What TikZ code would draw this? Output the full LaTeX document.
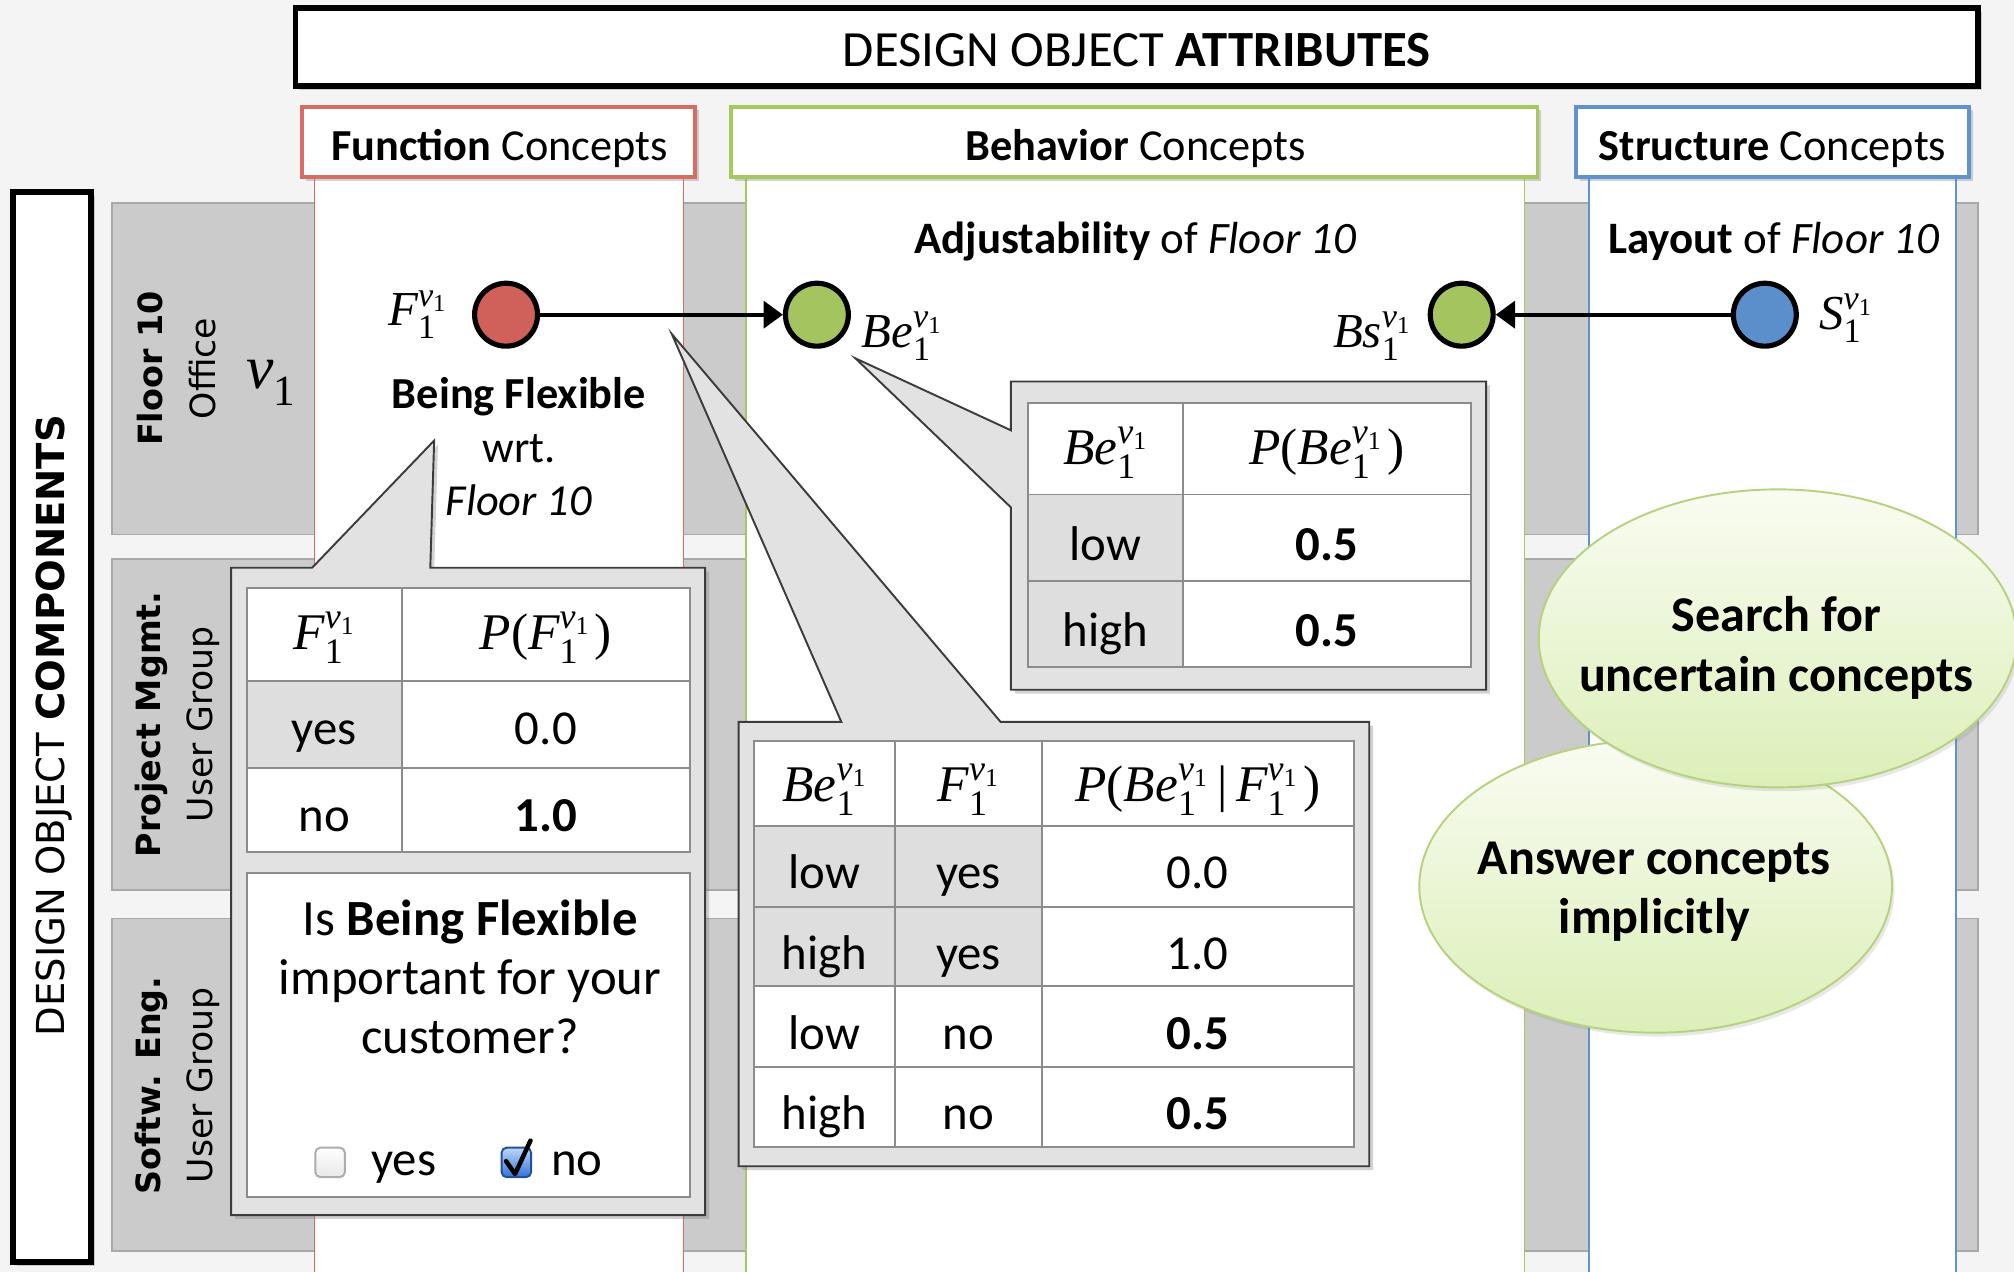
\documentclass[tikz,border=0pt]{standalone}
\usepackage{fontspec}
\usepackage{amsmath}
\setmainfont{Carlito}
\newfontfamily\vfont{DejaVu Sans}
\newfontfamily\tms{Liberation Serif}
\usetikzlibrary{shadows,arrows.meta,shapes.geometric}
\definecolor{bgc}{RGB}{244,244,244}
\definecolor{rowg}{RGB}{203,203,203}
\definecolor{rowb}{RGB}{168,168,168}
\definecolor{cred}{RGB}{218,106,100}
\definecolor{cgreen}{RGB}{165,200,95}
\definecolor{cblue}{RGB}{96,146,206}
\definecolor{fred}{RGB}{208,96,90}
\definecolor{fgreen}{RGB}{163,196,95}
\definecolor{fblue}{RGB}{91,143,203}
\definecolor{callf}{RGB}{226,226,226}
\definecolor{calld}{RGB}{60,60,60}
\definecolor{tline}{RGB}{140,140,140}
\definecolor{tcell}{RGB}{222,222,222}
\definecolor{elltop}{RGB}{249,252,242}
\definecolor{ellbot}{RGB}{220,239,184}
\definecolor{elld}{RGB}{182,210,126}
\definecolor{chktop}{RGB}{190,215,250}
\definecolor{chkbot}{RGB}{50,115,215}
\newcommand\tv[1]{\text{\tms\itshape #1}}
\newcommand\tu[1]{\text{\tms #1}}
\newcommand\vv[1]{\tv{#1}^{\tv{v}_{\tu{1}}}_{\tu{1}}}
\begin{document}
\begin{tikzpicture}[x=1pt,y=-1pt,
  shad/.style={drop shadow={opacity=0.35,shadow xshift=3pt,shadow yshift=-3pt}},
  softshad/.style={drop shadow={opacity=0.18,shadow xshift=2pt,shadow yshift=-3pt}},
  bigbox/.style={draw=black,line width=4.5pt,fill=white,shad,inner sep=0pt},
  colhead/.style={line width=3pt,fill=white,shad,inner sep=0pt},
  hdtxt/.style={font=\fontsize{34.5}{40}\selectfont,inner sep=0pt,anchor=base},
  colbody/.style={line width=1.2pt,fill=white},
  rowbox/.style={draw=rowb,fill=rowg,line width=1.2pt},
  sidebold/.style={rotate=90,font=\vfont\bfseries\fontsize{26}{30}\selectfont,inner sep=0pt},
  sidereg/.style={rotate=90,font=\vfont\fontsize{27}{30}\selectfont,inner sep=0pt},
  circ/.style={circle,draw=black,line width=4pt,minimum size=49pt,inner sep=0pt},
  arr/.style={line width=3pt,-{Triangle[length=15pt,width=21pt]}},
  lab/.style={font=\fontsize{38}{40}\selectfont,inner sep=0pt},
  txt/.style={font=\fontsize{34.5}{40}\selectfont,inner sep=0pt,anchor=base},
  cbox/.style={fill=callf,draw=calld,line width=1.5pt,line join=miter,shad},
  tbl/.style={draw=tline,line width=1.5pt},
  tt/.style={font=\fontsize{38}{46}\selectfont,inner sep=0pt,anchor=base},
  tm/.style={font=\fontsize{40}{46}\selectfont,inner sep=0pt,anchor=base},
  qt/.style={font=\fontsize{39.5}{46}\selectfont,inner sep=0pt,anchor=base},
  bubble/.style={ellipse,draw=elld,line width=1.5pt,top color=elltop,bottom color=ellbot,softshad,inner sep=0pt},
  btxt/.style={font=\bfseries\fontsize{39}{46}\selectfont,inner sep=0pt,anchor=base},
  chk/.style={rectangle,rounded corners=4pt,minimum size=23pt,inner sep=0pt,line width=1.5pt}
]
\useasboundingbox (0,0) rectangle (1568,990);
\fill[bgc] (0,0) rectangle (1568,990);

% rows
\draw[rowbox] (87,158) rectangle (1540,416);
\draw[rowbox] (87,435) rectangle (1540,693);
\draw[rowbox] (87,715) rectangle (1540,974);

% column bodies
\draw[colbody,draw=cred] (245,138) rectangle (532,995);
\draw[colbody,draw=cgreen] (581,138) rectangle (1187,995);
\draw[colbody,draw=cblue] (1237,138) rectangle (1523,995);

% headers
\node[bigbox,minimum width=1310pt,minimum height=61pt] (attr) at (885,36.5) {};
\node[hdtxt,font=\fontsize{39.5}{44}\selectfont] (attrt) at (885,52) {DESIGN OBJECT \textbf{ATTRIBUTES}};
\node[colhead,draw=cred,minimum width=306pt,minimum height=55pt] (fhead) at (388,110.5) {};
\node[colhead,draw=cgreen,minimum width=628pt,minimum height=55pt] (bhead) at (883,110.5) {};
\node[colhead,draw=cblue,minimum width=306pt,minimum height=55pt] (shead) at (1380,110.5) {};
\node[hdtxt] (fheadt) at (389,125) {\textbf{Function} Concepts};
\node[hdtxt] (bheadt) at (884,125) {\textbf{Behavior} Concepts};
\node[hdtxt] (sheadt) at (1380,125) {\textbf{Structure} Concepts};

% left box
\node[bigbox,minimum width=61pt,minimum height=833pt] (comp) at (40.5,566) {};
\node[rotate=90,font=\vfont\fontsize{30}{34}\selectfont,inner sep=0pt] (compt) at (42,565) {DESIGN OBJECT \textbf{COMPONENTS}};

% row labels
\node[sidebold] (r1a) at (117,287) {Floor 10};
\node[sidereg] (r1b) at (158,287) {Office};
\node[font=\tms\itshape\fontsize{48}{50}\selectfont,inner sep=0pt] (r1v) at (211,298) {v\textsubscript{\upshape 1}};
\node[sidebold] (r2a) at (118,564) {Project Mgmt.};
\node[sidereg] (r2b) at (158,564) {User Group};
\node[sidebold] (r3a) at (118,845) {Softw. Eng.};
\node[sidereg] (r3b) at (158,845) {User Group};

% column texts
\node[hdtxt,font=\fontsize{35}{40}\selectfont] (adj) at (884,197) {\textbf{Adjustability} of \textit{Floor 10}};
\node[hdtxt,font=\fontsize{35}{40}\selectfont] (lay) at (1381,197) {\textbf{Layout} of \textit{Floor 10}};
\node[txt] (bf1) at (404,318) {\textbf{Being Flexible}};
\node[txt] (bf2) at (404,360) {wrt.};
\node[txt] (bf3) at (404,401) {\textit{Floor 10}};

% nodes
\node[circ,fill=fred] (F) at (394,245) {};
\node[circ,fill=fgreen] (Be) at (636,245) {};
\node[circ,fill=fgreen] (Bs) at (1138,245) {};
\node[circ,fill=fblue] (S) at (1374,245) {};
\draw[arr] (F) -- (Be);
\draw[arr] (S) -- (Bs);
\node[lab] (Fl) at (325,245) {$\vv{F}$};
\node[lab] (Bel) at (702,262) {$\vv{Be}$};
\node[lab] (Bsl) at (1068,262) {$\vv{Bs}$};
\node[lab] (Sl) at (1437,248) {$\vv{S}$};

% callout 1
\draw[cbox] (180,442) -- (243,442) -- (338,343) -- (335,442) -- (549,442) -- (549,946) -- (180,946) -- cycle;
\fill[white] (192,458) rectangle (537,663);
\fill[tcell] (192,530) rectangle (313,598);
\draw[tbl] (192,458) rectangle (537,663);
\draw[tbl] (313,458) -- (313,663) (192,530) -- (537,530) (192,598) -- (537,598);
\node[tm] (t1a) at (252.5,506) {$\vv{F}$};
\node[tm] (t1b) at (425,506) {$\tv{P}\tu{(}\vv{F}\,\tu{)}$};
\node[tt] (t1c) at (252.5,580) {yes};
\node[tt] (t1d) at (425,580) {0.0};
\node[tt] (t1e) at (252.5,647) {no};
\node[tt] (t1f) at (425,647) {\textbf{1.0}};
\draw[tbl,fill=white] (192,680) rectangle (537,932);
\node[qt] (q1) at (366,728) {Is \textbf{Being Flexible}};
\node[qt] (q2) at (366,774) {important for your};
\node[qt] (q3) at (366,820) {customer?};
\node[chk,top color=white,bottom color=gray!18,draw=gray!65] (cb1) at (257,905) {};
\node[tt,anchor=base west] (cby) at (289,915) {yes};
\node[chk,top color=chktop,bottom color=chkbot,draw=chkbot!70!black] (cb2) at (402,905) {};
\draw[line width=3.5pt,line cap=round,line join=round] ([shift={(-8,-1)}]cb2.center) -- ([shift={(-1,9)}]cb2.center) -- ([shift={(11,-17)}]cb2.center);
\node[tt,anchor=base west] (cbn) at (429,915) {no};

% callout 2
\draw[cbox] (787,297) -- (1157,297) -- (1157,537) -- (787,537) -- (787,395) -- (666,279) -- (787,335) -- cycle;
\fill[white] (800,314) rectangle (1145,519);
\fill[tcell] (800,385) rectangle (921,519);
\draw[tbl] (800,314) rectangle (1145,519);
\draw[tbl] (921,314) -- (921,519) (800,385) -- (1145,385) (800,452) -- (1145,452);
\node[tm] (t2a) at (860.5,362) {$\vv{Be}$};
\node[tm] (t2b) at (1033,362) {$\tv{P}\tu{(}\vv{Be}\,\tu{)}$};
\node[tt] (t2c) at (860.5,436) {low};
\node[tt] (t2d) at (1033,436) {\textbf{0.5}};
\node[tt] (t2e) at (860.5,503) {high};
\node[tt] (t2f) at (1033,503) {\textbf{0.5}};

% callout 3
\draw[cbox] (575,562) -- (655,562) -- (523,260) -- (779,562) -- (1066,562) -- (1066,908) -- (575,908) -- cycle;
\fill[white] (587,577) rectangle (1054,893);
\fill[tcell] (587,643) rectangle (811,768);
\draw[tbl] (587,577) rectangle (1054,893);
\draw[tbl] (697,577) -- (697,893) (811,577) -- (811,893);
\draw[tbl] (587,643) -- (1054,643) (587,706) -- (1054,706) (587,768) -- (1054,768) (587,831) -- (1054,831);
\node[tm] (t3a) at (642,624) {$\vv{Be}$};
\node[tm] (t3b) at (754,624) {$\vv{F}$};
\node[tm] (t3c) at (932.5,624) {$\tv{P}\tu{(}\vv{Be}\;\tu{|}\;\vv{F}\,\tu{)}$};
\node[tt] (r1c1) at (642,692) {low};
\node[tt] (r1c2) at (754,692) {yes};
\node[tt] (r1c3) at (932.5,692) {0.0};
\node[tt] (r2c1) at (642,755) {high};
\node[tt] (r2c2) at (754,755) {yes};
\node[tt] (r2c3) at (932.5,755) {1.0};
\node[tt] (r3c1) at (642,817) {low};
\node[tt] (r3c2) at (754,817) {no};
\node[tt] (r3c3) at (932.5,817) {\textbf{0.5}};
\node[tt] (r4c1) at (642,879) {high};
\node[tt] (r4c2) at (754,879) {no};
\node[tt] (r4c3) at (932.5,879) {\textbf{0.5}};

% bubbles
\node[bubble,minimum width=368pt,minimum height=228pt] (ans) at (1289,690) {};
\node[btxt] (ans1) at (1288,681) {Answer concepts};
\node[btxt] (ans2) at (1288,727) {implicitly};
\node[bubble,minimum width=372pt,minimum height=232pt] (srch) at (1384,497) {};
\node[btxt] (srch1) at (1383,492) {Search for};
\node[btxt] (srch2) at (1383,538) {uncertain concepts};
\end{tikzpicture}
\end{document}
